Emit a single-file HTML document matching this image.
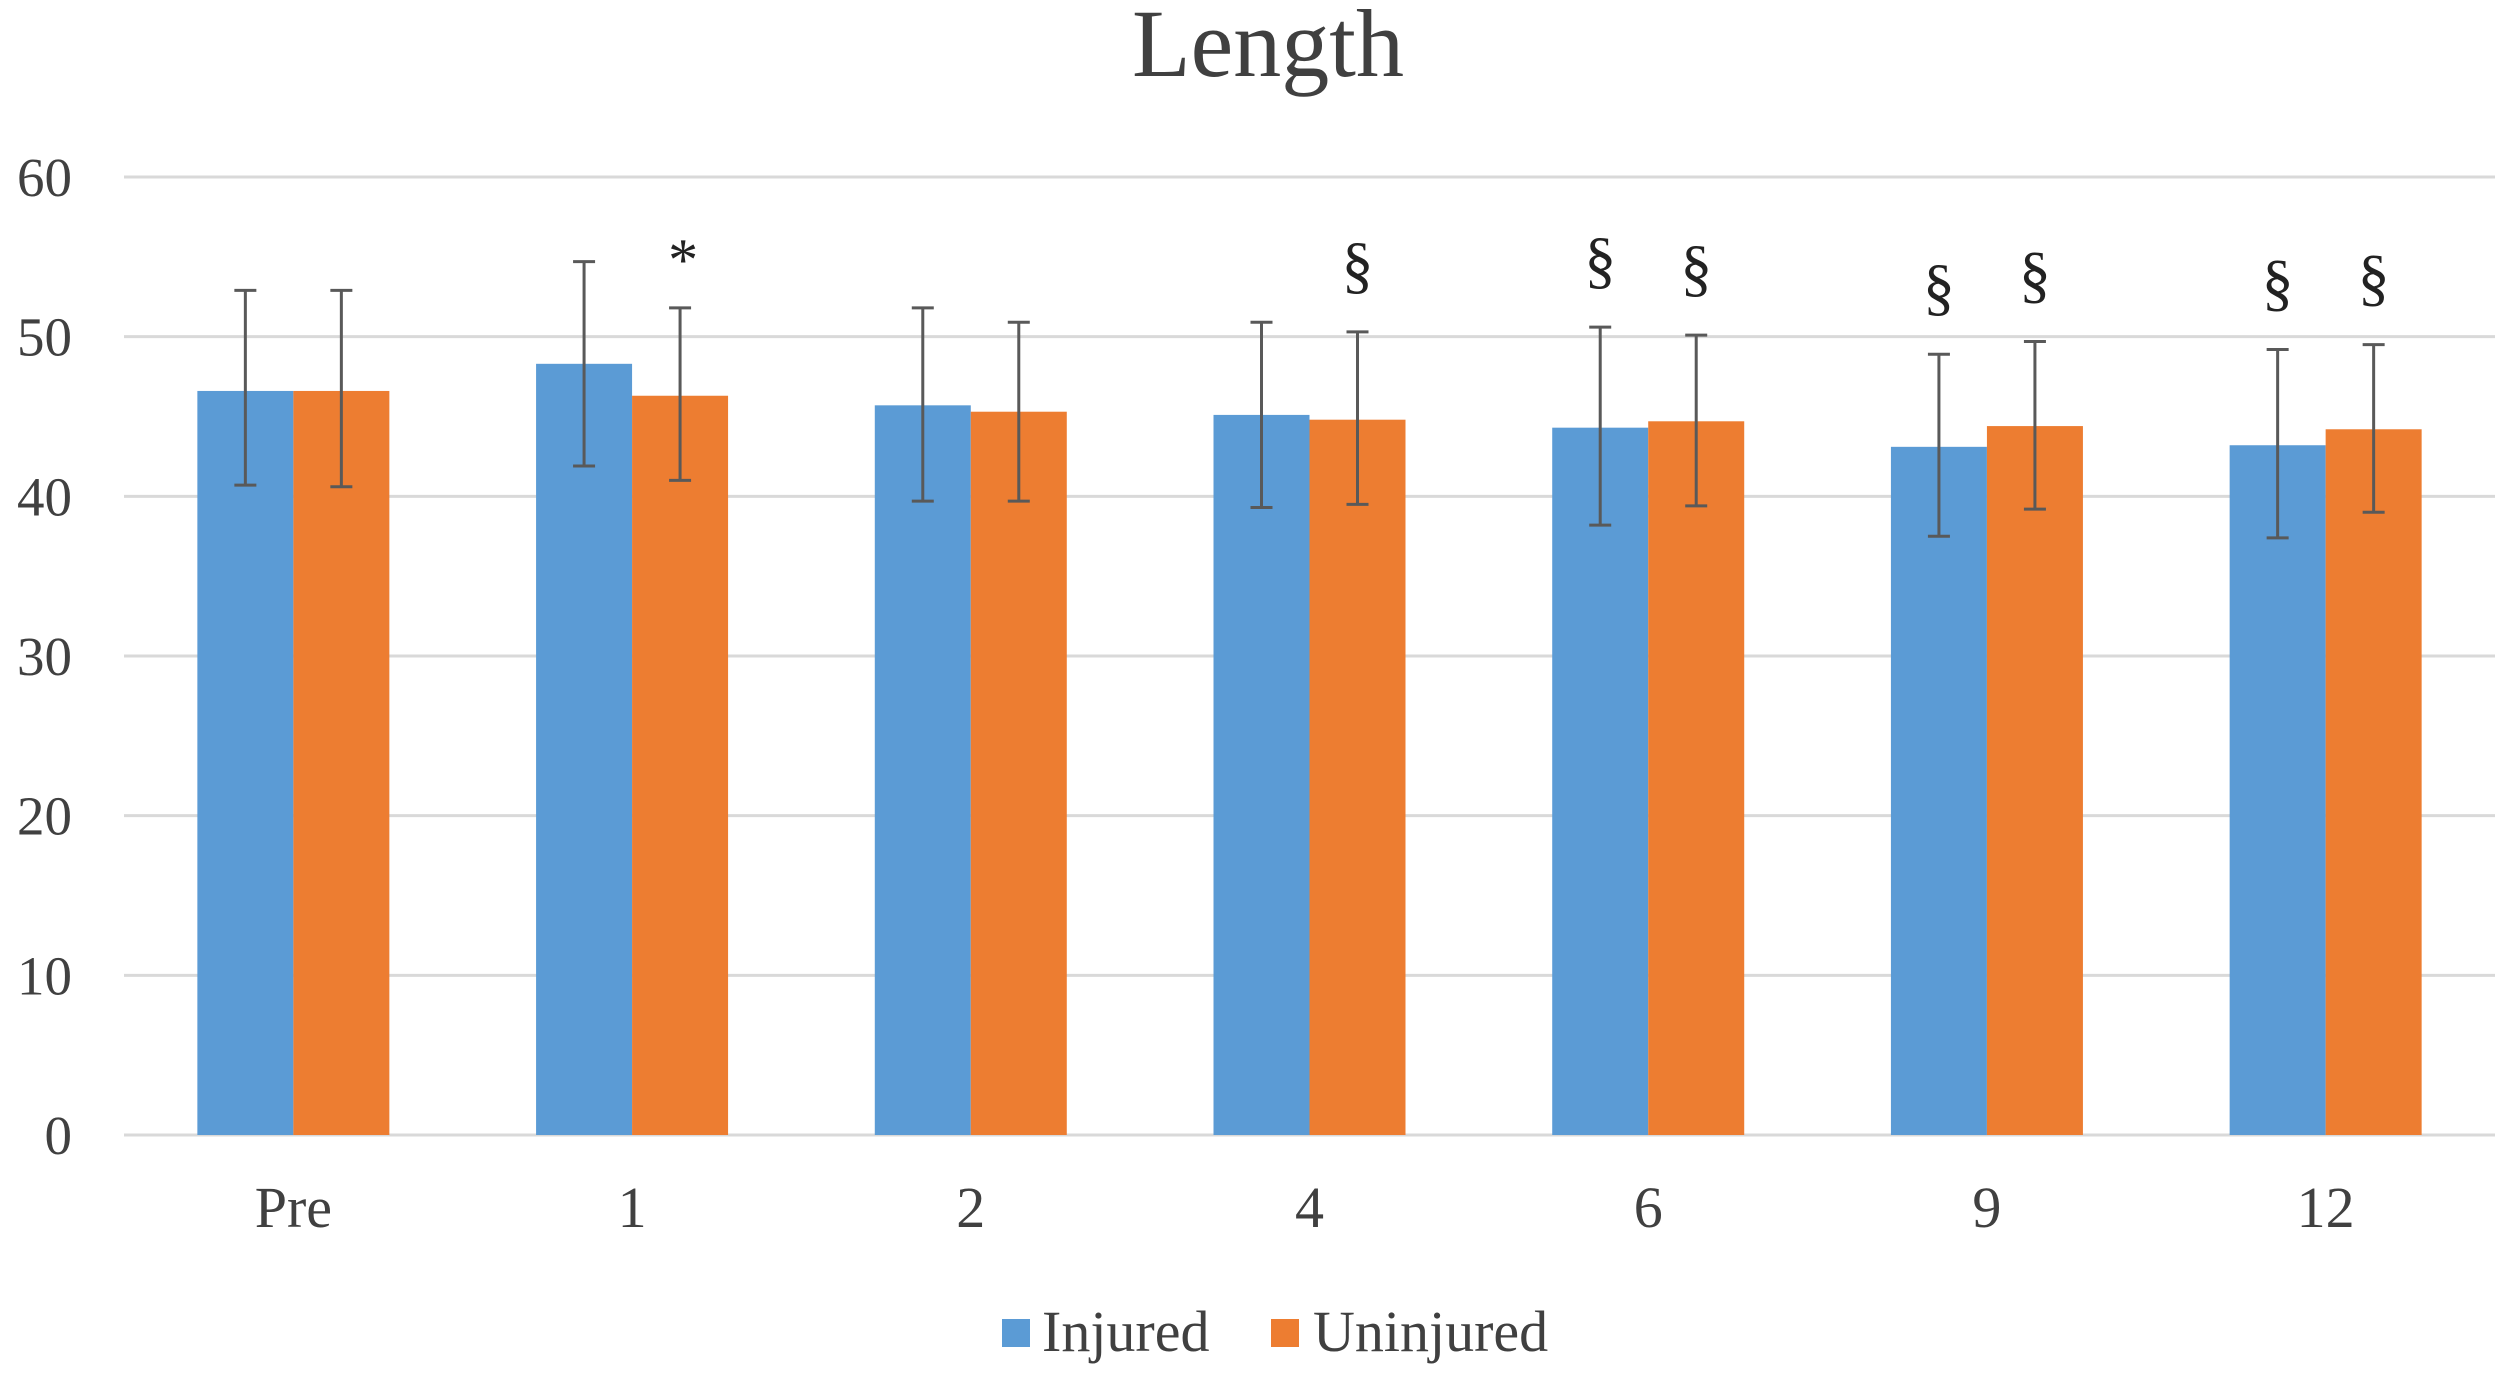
<!DOCTYPE html>
<html><head><meta charset="utf-8"><style>
html,body{margin:0;padding:0;background:#fff;}
svg{display:block;font-family:"Liberation Serif",serif;}
</style></head><body>
<svg id="chart" width="2506" height="1377" viewBox="0 0 2506 1377" xmlns="http://www.w3.org/2000/svg">
<text x="1268" y="76" font-size="96" text-anchor="middle" fill="#404040">Length</text>
<g id="grid"></g><g id="bars"></g><g id="errs"></g><g id="marks"></g><g id="labels"></g>
<g>
<rect x="1002" y="1319" width="28" height="28" fill="#5B9BD5"/>
<text x="1042" y="1351" font-size="58" fill="#404040">Injured</text>
<rect x="1271" y="1319" width="28" height="28" fill="#ED7D31"/>
<text x="1313" y="1351" font-size="58" fill="#404040">Uninjured</text>
</g>
</svg>
<script>
const categories=["Pre","1","2","4","6","9","12"];
const injured=[46.6,48.3,45.7,45.1,44.3,43.1,43.2];
const uninjured=[46.6,46.3,45.3,44.8,44.7,44.4,44.2];
const injuredHi=[52.9,54.7,51.8,50.9,50.6,48.9,49.2];
const injuredLo=[40.7,41.9,39.7,39.3,38.2,37.5,37.4];
const uninjuredHi=[52.9,51.8,50.9,50.3,50.1,49.7,49.5];
const uninjuredLo=[40.6,41.0,39.7,39.5,39.4,39.2,39.0];
const injuredMark=["","","","","§","§","§"];
const uninjuredMark=["","*","","§","§","§","§"];
const yTicks=[0,10,20,30,40,50,60];
const NS="http://www.w3.org/2000/svg";
const L=124,R=2495,T=177,B=1135,yMax=60;
const y=v=>B-(v/yMax)*(B-T);
const bw=(R-L)/categories.length;
const cx=i=>L+bw*(i+0.5);
const barW=96;
function mk(tag,parent,attrs){const e=document.createElementNS(NS,tag);for(const k in attrs)e.setAttribute(k,attrs[k]);document.getElementById(parent).appendChild(e);return e;}
yTicks.forEach(t=>{
 const g=mk('line','grid',{x1:L,x2:R,y1:y(t),y2:y(t),stroke:'#d9d9d9','stroke-width':3});
 
 
 const tx=mk('text','labels',{x:72,y:y(t)+19,'font-size':55,'text-anchor':'end',fill:'#404040'});
 tx.textContent=t;
 
 
});
function series(vals,hi,lo,marks,off,color,name){
 vals.forEach((v,i)=>{
  const x0=cx(i)+off;
  const r=mk('rect','bars',{x:x0,y:y(v),width:barW,height:B-y(v),fill:color});
  
  
  const ex=x0+barW/2;
  const e=mk('path','errs',{d:`M${ex-11},${y(hi[i])}H${ex+11}M${ex},${y(hi[i])}V${y(lo[i])}M${ex-11},${y(lo[i])}H${ex+11}`,stroke:'#595959','stroke-width':3,fill:'none'});
  
  
  if(marks[i]){
   const star=marks[i]=='*';
   const m=mk('text','marks',{x:ex+(star?3:0),y:y(hi[i])-(star?28:46),'font-size':star?60:64,'text-anchor':'middle',fill:'#222'});
   m.textContent=marks[i];
   
   
  }
 });
}
series(injured,injuredHi,injuredLo,injuredMark,-barW,'#5B9BD5','injured');
series(uninjured,uninjuredHi,uninjuredLo,uninjuredMark,0,'#ED7D31','uninjured');
categories.forEach((c,i)=>{
 const t=mk('text','labels',{x:cx(i),y:1227,'font-size':58,'text-anchor':'middle',fill:'#404040'});
 t.textContent=c;
 
 
});
</script>
</body></html>
